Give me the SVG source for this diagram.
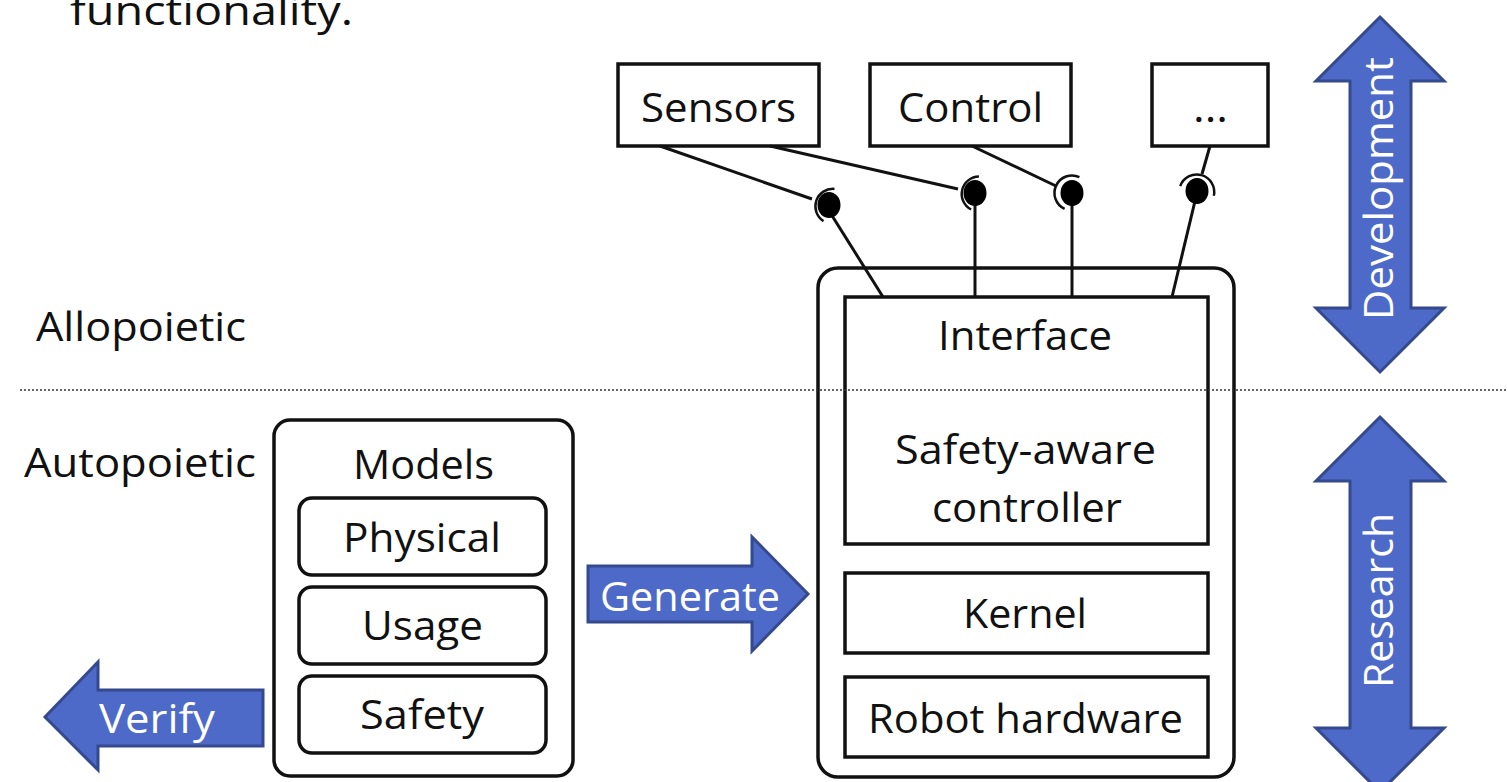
<svg xmlns="http://www.w3.org/2000/svg" width="1507" height="782" viewBox="0 0 1507 782">
<style>
.t{font-family:"Open Sans","Noto Sans",sans-serif;font-size:41px;fill:#111}
.w{font-family:"Open Sans","Noto Sans",sans-serif;font-size:41px;fill:#fff}
.box{fill:#fff;stroke:#111;stroke-width:3.5}
.ln{stroke:#111;stroke-width:3;fill:none}
.sock{stroke:#111;stroke-width:2.5;fill:none}
.arr{fill:#4e6ac8;stroke:#35498e;stroke-width:3;stroke-linejoin:miter}
</style>
<rect width="1507" height="782" fill="#fff"/>
<text class="t" x="70" y="25" font-size="44" textLength="283" lengthAdjust="spacingAndGlyphs">functionality.</text>
<g id="label-allopoietic"><text class="t" x="36" y="341" textLength="210" lengthAdjust="spacingAndGlyphs">Allopoietic</text></g>
<g id="label-autopoietic"><text class="t" x="24" y="477" textLength="232" lengthAdjust="spacingAndGlyphs">Autopoietic</text></g>

<g id="robot">
<rect class="box" x="818" y="268" width="416" height="509" rx="20"/>
</g>
<g id="interface">
<rect class="box" x="845" y="297" width="363" height="247"/>
<text class="t" x="938" y="350" textLength="174" lengthAdjust="spacingAndGlyphs">Interface</text>
<text class="t" x="895" y="464" textLength="261" lengthAdjust="spacingAndGlyphs">Safety-aware</text>
<text class="t" x="932" y="522" textLength="190" lengthAdjust="spacingAndGlyphs">controller</text>
</g>
<g id="kernel">
<rect class="box" x="845" y="573" width="363" height="80"/>
<text class="t" x="963" y="628" textLength="124" lengthAdjust="spacingAndGlyphs">Kernel</text>
</g>
<g id="hardware">
<rect class="box" x="845" y="677" width="363" height="80"/>
<text class="t" x="868" y="733" textLength="315" lengthAdjust="spacingAndGlyphs">Robot hardware</text>
</g>

<g id="models">
<rect class="box" x="274" y="420" width="299" height="356" rx="16"/>
<text class="t" x="353" y="479" textLength="141" lengthAdjust="spacingAndGlyphs">Models</text>
</g>
<g id="physical">
<rect class="box" x="299" y="498" width="247" height="77" rx="13"/>
<text class="t" x="343" y="552" textLength="158" lengthAdjust="spacingAndGlyphs">Physical</text>
</g>
<g id="usage">
<rect class="box" x="299" y="587" width="247" height="77" rx="13"/>
<text class="t" x="362" y="640" textLength="121" lengthAdjust="spacingAndGlyphs">Usage</text>
</g>
<g id="safety">
<rect class="box" x="299" y="676" width="247" height="77" rx="13"/>
<text class="t" x="360" y="729" textLength="124" lengthAdjust="spacingAndGlyphs">Safety</text>
</g>

<g id="sensors">
<rect class="box" x="618" y="64" width="201" height="82"/>
<text class="t" x="641" y="122" textLength="155" lengthAdjust="spacingAndGlyphs">Sensors</text>
</g>
<g id="control">
<rect class="box" x="870" y="64" width="201" height="82"/>
<text class="t" x="898" y="122" textLength="145" lengthAdjust="spacingAndGlyphs">Control</text>
</g>
<g id="more">
<rect class="box" x="1152" y="64" width="116" height="82"/>
<text class="t" x="1193" y="122" textLength="35" lengthAdjust="spacingAndGlyphs">...</text>
</g>

<g id="connectors">
<line class="ln" x1="660" y1="146" x2="812" y2="199"/>
<line class="ln" x1="770" y1="146" x2="958" y2="189"/>
<line class="ln" x1="972" y1="146" x2="1056" y2="186"/>
<line class="ln" x1="1210" y1="146" x2="1202" y2="174"/>
<line class="ln" x1="831" y1="214" x2="883" y2="297"/>
<line class="ln" x1="975" y1="203" x2="975" y2="297"/>
<line class="ln" x1="1072" y1="203" x2="1072" y2="297"/>
<line class="ln" x1="1195" y1="201" x2="1172" y2="297"/>
<ellipse cx="829" cy="205" rx="11.5" ry="13" fill="#000"/>
<ellipse cx="975" cy="193" rx="11.5" ry="13" fill="#000"/>
<ellipse cx="1072" cy="193" rx="11.5" ry="13" fill="#000"/>
<ellipse cx="1197" cy="191" rx="11.5" ry="13" fill="#000"/>
<path class="sock" d="M823.5,221.1 A17.5,17.5 0 0 1 834.5,188.9"/>
<path class="sock" d="M971.1,209.5 A17.5,17.5 0 0 1 978.9,176.5"/>
<path class="sock" d="M1064.6,208.9 A17.5,17.5 0 0 1 1079.4,177.1"/>
<path class="sock" d="M1180.2,186.2 A17.5,17.5 0 0 1 1213.8,195.8"/>
</g>

<line x1="20" y1="390" x2="1507" y2="390" stroke="#333" stroke-width="1.6" stroke-dasharray="2 2"/>

<g id="generate">
<polygon class="arr" points="588,566 752,566 752,537 808,594 752,651 752,622 588,622"/>
<text class="w" x="600" y="611" textLength="180" lengthAdjust="spacingAndGlyphs">Generate</text>
</g>
<g id="verify">
<polygon class="arr" points="263,690 98,690 98,662 45,717 98,770 98,746 263,746"/>
<text class="w" x="99" y="733" textLength="116" lengthAdjust="spacingAndGlyphs">Verify</text>
</g>
<g id="development">
<polygon class="arr" points="1380,17 1444,81 1411,81 1411,308 1444,308 1380,372 1316,308 1350,308 1350,81 1316,81"/>
<text class="w" transform="translate(1393,320) rotate(-90)" x="0" y="0" textLength="263" lengthAdjust="spacingAndGlyphs">Development</text>
</g>
<g id="research">
<polygon class="arr" points="1380,417 1444,481 1411,481 1411,728 1444,728 1380,792 1316,728 1350,728 1350,481 1316,481"/>
<text class="w" transform="translate(1393,688) rotate(-90)" x="0" y="0" textLength="175" lengthAdjust="spacingAndGlyphs">Research</text>
</g>
</svg>
